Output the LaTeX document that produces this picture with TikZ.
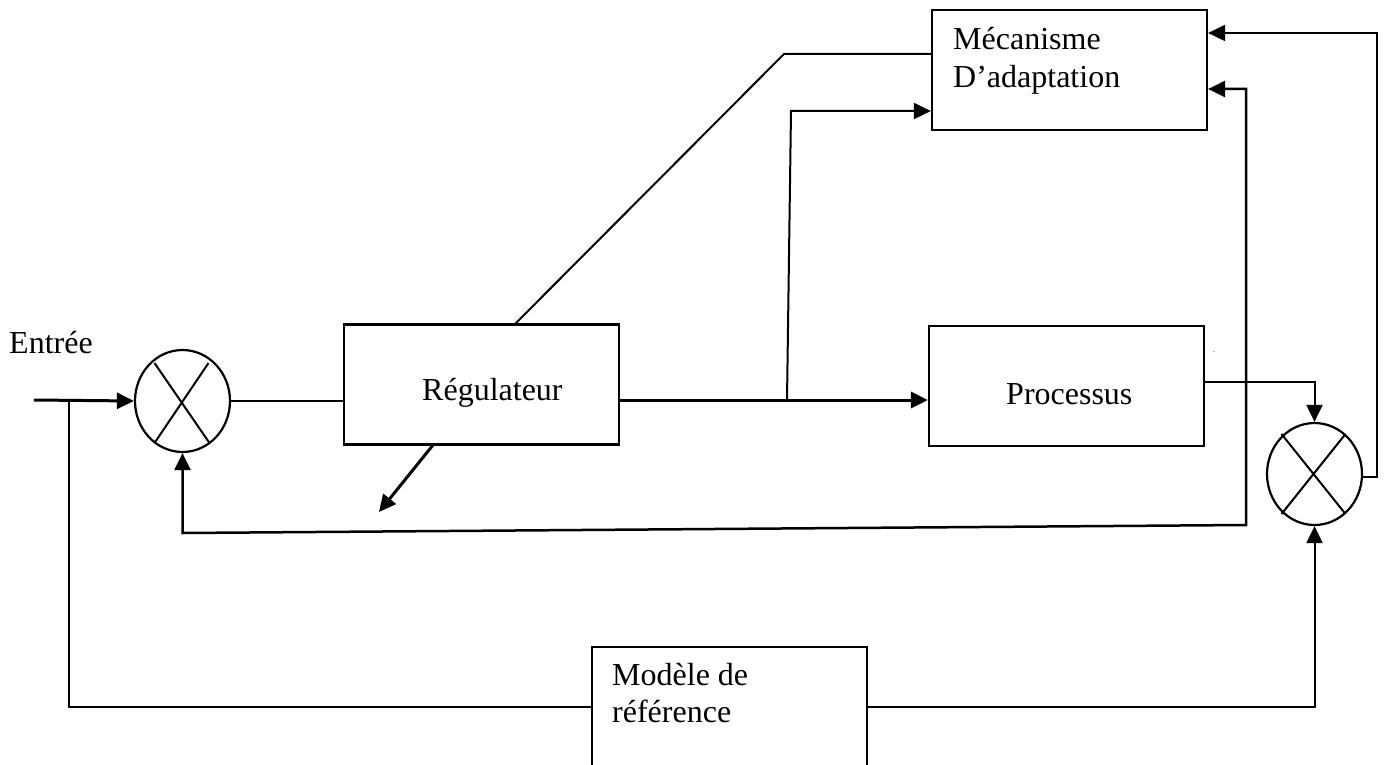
\documentclass[tikz,border=0pt]{standalone}
\usepackage{fontspec}
\setmainfont{Liberation Serif}
\usetikzlibrary{shapes.geometric,arrows.meta,calc}
\begin{document}
\begin{tikzpicture}[x=1pt,y=-1pt,
  every node/.style={font=\fontsize{32pt}{37pt}\selectfont},
  blk/.style={draw,line width=2.2pt,rectangle,inner sep=0pt,minimum width=275pt,minimum height=120pt},
  openblk/.style={rectangle,inner sep=0pt,minimum width=275pt,minimum height=120pt},
  sumj/.style={draw,line width=2.2pt,ellipse,inner sep=0pt,minimum width=95pt,minimum height=102pt},
  lbl/.style={anchor=base west,inner sep=0pt},
  thin/.style={line width=2pt},
  thick/.style={line width=3pt},
  arr/.style={-{Triangle[length=17pt,width=16pt]}},
  darr/.style={{Triangle[length=17pt,width=16pt]}-{Triangle[length=17pt,width=16pt]}}
]
\useasboundingbox (0,0) rectangle (1384,765);
\fill[white] (0,0) rectangle (1384,765);

% blocks
\node[blk] (reg) at (481.5,384.5) {};
\node[blk] (proc) at (1066.5,386) {};
\node[blk] (mec) at (1069.5,70) {};
\node[openblk] (mod) at (729.5,707) {};
\draw[line width=2.2pt] (mod.south west) -- (mod.north west) -- (mod.north east) -- (mod.south east);

% summing junctions
\node[sumj] (s1) at (182.5,401) {};
\node[sumj] (s2) at (1314.5,474) {};
\draw[thin] ($(s1)+(-28,-38)$) -- ($(s1)+(27,42)$);
\draw[thin] ($(s1)+(26,-38)$) -- ($(s1)+(-28,42)$);
\draw[thin] ($(s2)+(-33,-40)$) -- ($(s2)+(31,40)$);
\draw[thin] ($(s2)+(31,-40)$) -- ($(s2)+(-33,40)$);

% labels
\node[lbl] (tin) at (9,353) {Entrée};
\node[lbl] (treg) at (422,400) {Régulateur};
\node[lbl] (tproc) at (1006,404) {Processus};
\node[lbl] (tmec1) at (953,50) {Mécanisme};
\node[lbl] (tmec2) at (953,88) {D’adaptation};
\node[lbl] (tmod1) at (612,685) {Modèle de};
\node[lbl] (tmod2) at (612,722) {référence};
\node[lbl,font=\fontsize{8pt}{9pt}\selectfont] (dot) at (1213,352) {.};

% coordinates
\coordinate (in) at (34,400);
\coordinate (br) at (69,400);
\coordinate (br2) at (787,400);
\coordinate (regout) at (379,512);

% connectors
\draw[thick,arr] (in) -- (s1.west);
\draw[thin] (br) -- (69,707) -- (mod.west);
\draw[thin,arr] (mod.east) -- (s2.south |- mod.east) -- (s2.south);
\draw[thin] (s1.east) -- (reg.west |- s1.east);
\draw[thick,arr] (reg.east |- br2) -- (proc.west |- br2);
\draw[thin,arr] (br2) -- (791,111) -- (mec.west |- 0,111);
\draw[thin] (515,324) -- (784,54) -- (mec.west |- 0,54);
\draw[thick,arr] (433,445) -- (regout);
\draw[thin,arr] (proc.east |- 0,382) -- (s2.north |- 0,382) -- (s2.north);
\draw[thin,arr] (s2.east |- 0,477) -- (1377,477) -- (1377,33) -- (mec.east |- 0,33);
\draw[line width=2.5pt,darr] (mec.east |- 0,89) -- (1246,89) -- (1246,525) -- (182.5,533) -- (s1.south);
\end{tikzpicture}
\end{document}
